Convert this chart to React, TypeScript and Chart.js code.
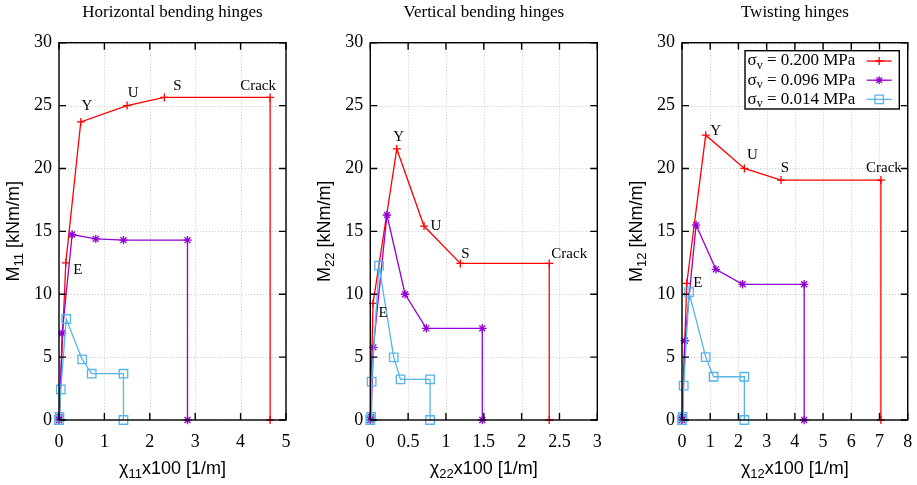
import React, { useEffect, useRef } from "react";
import { Chart, registerables } from "chart.js";

Chart.register(...registerables);

// ---------- DATA ----------
// Horizontal bending hinges (chi11, M11)
const H_RED_X = [0, 0.15, 0.48, 1.5, 2.32, 4.65, 4.65];
const H_RED_Y = [0, 12.5, 23.7, 25.0, 25.65, 25.65, 0];
const H_PURPLE_X = [0, 0.01, 0.07, 0.29, 0.81, 1.42, 2.83, 2.83];
const H_PURPLE_Y = [0, 0.25, 6.9, 14.75, 14.4, 14.3, 14.3, 0];
const H_BLUE_X = [0, 0.01, 0.04, 0.16, 0.51, 0.72, 1.42, 1.42];
const H_BLUE_Y = [0, 0.25, 2.44, 8.03, 4.82, 3.68, 3.68, 0];

// Vertical bending hinges (chi22, M22)
const V_RED_X = [0, 0.036, 0.35, 0.71, 1.19, 2.365, 2.365];
const V_RED_Y = [0, 9.27, 21.55, 15.42, 12.45, 12.45, 0];
const V_PURPLE_X = [0, 0.01, 0.04, 0.22, 0.46, 0.74, 1.48, 1.48];
const V_PURPLE_Y = [0, 0.25, 5.78, 16.3, 10.0, 7.29, 7.29, 0];
const V_BLUE_X = [0, 0.01, 0.018, 0.115, 0.31, 0.4, 0.79, 0.79];
const V_BLUE_Y = [0, 0.25, 3.05, 12.27, 4.98, 3.23, 3.23, 0];

// Twisting hinges (chi12, M12)
const T_RED_X = [0, 0.17, 0.84, 2.21, 3.51, 7.05, 7.05];
const T_RED_Y = [0, 10.87, 22.65, 20.0, 19.08, 19.08, 0];
const T_PURPLE_X = [0, 0.02, 0.1, 0.5, 1.2, 2.15, 4.33, 4.33];
const T_PURPLE_Y = [0, 0.25, 6.3, 15.5, 11.98, 10.79, 10.79, 0];
const T_BLUE_X = [0, 0.02, 0.06, 0.25, 0.84, 1.12, 2.21, 2.21];
const T_BLUE_Y = [0, 0.25, 2.73, 10.17, 5.0, 3.44, 3.44, 0];

// Labels attached to the red (sigma_v = 0.200 MPa) points
const RED_POINT_LABELS = ["", "E", "Y", "U", "S", "Crack", ""];

const TITLES = ["Horizontal bending hinges", "Vertical bending hinges", "Twisting hinges"];
const SUBSCRIPTS = ["11", "22", "12"];
const X_MAX = [5, 3, 8];
const X_STEP = [1, 0.5, 1];
const Y_MAX = 30;
const Y_STEP = 5;
const LEGEND_LABELS = ["0.200", "0.096", "0.014"];

// ---------- STYLE ----------
const RED = "#ff0000";
const PURPLE = "#9400d3";
const BLUE = "#56b4e9";
const COLORS = [RED, PURPLE, BLUE];
const SERIF = "'Liberation Serif', 'Times New Roman', serif";
const SANS = "'Liberation Sans', Arial, sans-serif";

type Seg = { t: string; sub?: boolean };

function drawRich(
  ctx: CanvasRenderingContext2D,
  segs: Seg[],
  x: number,
  y: number,
  size: number,
  family: string,
  align: "left" | "center"
) {
  const subSize = Math.round(size * 0.72);
  const widths = segs.map((s) => {
    ctx.font = `${s.sub ? subSize : size}px ${family}`;
    return ctx.measureText(s.t).width;
  });
  const total = widths.reduce((a, b) => a + b, 0);
  let cx = align === "center" ? x - total / 2 : x;
  ctx.textAlign = "left";
  ctx.textBaseline = "middle";
  segs.forEach((s, i) => {
    ctx.font = `${s.sub ? subSize : size}px ${family}`;
    ctx.fillText(s.t, cx, y + (s.sub ? size * 0.28 : 0));
    cx += widths[i];
  });
}

function drawMarker(ctx: CanvasRenderingContext2D, kind: number, x: number, y: number, color: string) {
  ctx.save();
  ctx.strokeStyle = color;
  ctx.lineWidth = 1.3;
  ctx.beginPath();
  if (kind === 0) {
    const r = 4;
    ctx.moveTo(x - r, y); ctx.lineTo(x + r, y);
    ctx.moveTo(x, y - r); ctx.lineTo(x, y + r);
  } else if (kind === 1) {
    const r = 4;
    const d = r * Math.SQRT1_2;
    ctx.moveTo(x - r, y); ctx.lineTo(x + r, y);
    ctx.moveTo(x, y - r); ctx.lineTo(x, y + r);
    ctx.moveTo(x - d, y - d); ctx.lineTo(x + d, y + d);
    ctx.moveTo(x - d, y + d); ctx.lineTo(x + d, y - d);
  } else {
    const s = 4.2;
    ctx.rect(x - s, y - s, 2 * s, 2 * s);
  }
  ctx.stroke();
  ctx.restore();
}

type PanelCfg = {
  idx: number;
  left: number;
  width: number;
  plotLeft: number;
  plotRight: number;
  red: [number[], number[]];
  purple: [number[], number[]];
  blue: [number[], number[]];
  labelOffsets: [number, number][];
  legend: boolean;
};

const PLOT_TOP = 42.7;
const PLOT_BOTTOM = 420;
const H = 485;

const PANELS: PanelCfg[] = [
  {
    idx: 0, left: 0, width: 305, plotLeft: 59, plotRight: 286,
    red: [H_RED_X, H_RED_Y], purple: [H_PURPLE_X, H_PURPLE_Y], blue: [H_BLUE_X, H_BLUE_Y],
    labelOffsets: [[0, 0], [12, 7], [6, -16], [6, -13], [13, -11], [-12, -11], [0, 0]],
    legend: false,
  },
  {
    idx: 1, left: 305, width: 310, plotLeft: 370.3, plotRight: 597.3,
    red: [V_RED_X, V_RED_Y], purple: [V_PURPLE_X, V_PURPLE_Y], blue: [V_BLUE_X, V_BLUE_Y],
    labelOffsets: [[0, 0], [10, 10], [2, -12], [12, 0], [5, -9], [20, -9], [0, 0]],
    legend: false,
  },
  {
    idx: 2, left: 615, width: 302, plotLeft: 682, plotRight: 907.7,
    red: [T_RED_X, T_RED_Y], purple: [T_PURPLE_X, T_PURPLE_Y], blue: [T_BLUE_X, T_BLUE_Y],
    labelOffsets: [[0, 0], [11, 0], [10, -4], [8, -13], [4, -12], [3, -12], [0, 0]],
    legend: true,
  },
];

function makeDataset(xs: number[], ys: number[], color: string, style: string, radius: number, label: string) {
  return {
    label,
    data: xs.map((x, i) => ({ x, y: ys[i] })),
    borderColor: color,
    backgroundColor: "transparent",
    borderWidth: 1.3,
    pointStyle: style,
    pointRadius: radius,
    pointHoverRadius: radius,
    pointBorderColor: color,
    pointBackgroundColor: "transparent",
    pointBorderWidth: 1.3,
    showLine: true,
    tension: 0,
    clip: false,
  };
}

function makeChart(canvas: HTMLCanvasElement, p: PanelCfg) {
  const i = p.idx;
  const tickFont = { family: SERIF, size: 18 };
  const decor = {
    id: "decor" + i,
    beforeDatasetsDraw(chart: any) {
      const { ctx, chartArea: a, scales } = chart;
      ctx.save();
      ctx.strokeStyle = "#c8c8c8";
      ctx.lineWidth = 1;
      ctx.setLineDash([1, 2]);
      scales.x.ticks.forEach((t: any) => {
        const px = Math.round(scales.x.getPixelForValue(t.value)) + 0.5;
        ctx.beginPath(); ctx.moveTo(px, a.top); ctx.lineTo(px, a.bottom); ctx.stroke();
      });
      scales.y.ticks.forEach((t: any) => {
        const py = Math.round(scales.y.getPixelForValue(t.value)) + 0.5;
        ctx.beginPath(); ctx.moveTo(a.left, py); ctx.lineTo(a.right, py); ctx.stroke();
      });
      ctx.restore();
    },
    afterDatasetsDraw(chart: any) {
      const { ctx, chartArea: a, scales } = chart;
      ctx.save();
      // frame
      ctx.strokeStyle = "#000";
      ctx.lineWidth = 1.4;
      ctx.strokeRect(a.left, a.top, a.right - a.left, a.bottom - a.top);
      // inward ticks on all sides
      const tl = 7;
      ctx.beginPath();
      scales.x.ticks.forEach((t: any) => {
        const px = scales.x.getPixelForValue(t.value);
        ctx.moveTo(px, a.bottom); ctx.lineTo(px, a.bottom - tl);
        ctx.moveTo(px, a.top); ctx.lineTo(px, a.top + tl);
      });
      scales.y.ticks.forEach((t: any) => {
        const py = scales.y.getPixelForValue(t.value);
        ctx.moveTo(a.left, py); ctx.lineTo(a.left + tl, py);
        ctx.moveTo(a.right, py); ctx.lineTo(a.right - tl, py);
      });
      ctx.stroke();

      // point labels
      ctx.fillStyle = "#000";
      ctx.font = `15px ${SERIF}`;
      ctx.textAlign = "center";
      ctx.textBaseline = "middle";
      const [rx, ry] = p.red;
      RED_POINT_LABELS.forEach((lab, k) => {
        if (!lab) return;
        const px = scales.x.getPixelForValue(rx[k]);
        const py = scales.y.getPixelForValue(ry[k]);
        const [ox, oy] = p.labelOffsets[k];
        ctx.fillText(lab, px + ox, py + oy);
      });

      // legend
      if (p.legend) {
        const bx = 130, by = 50.7, bw = 154.3, bh = 58.3;
        ctx.fillStyle = "#fff";
        ctx.fillRect(bx, by, bw, bh);
        ctx.strokeStyle = "#000";
        ctx.lineWidth = 1.4;
        ctx.strokeRect(bx, by, bw, bh);
        LEGEND_LABELS.forEach((val, k) => {
          const cy = 61 + k * 19.2;
          ctx.fillStyle = "#000";
          drawRich(ctx, [{ t: "σ" }, { t: "v", sub: true }, { t: ` = ${val} MPa` }], bx + 2.5, cy, 17, SERIF, "left");
          ctx.strokeStyle = COLORS[k];
          ctx.lineWidth = 1.3;
          ctx.beginPath();
          ctx.moveTo(251.7, cy); ctx.lineTo(276.7, cy);
          ctx.stroke();
          drawMarker(ctx, k, 264.2, cy, COLORS[k]);
        });
      }
      ctx.restore();
    },
    afterDraw(chart: any) {
      const { ctx, chartArea: a } = chart;
      ctx.save();
      ctx.fillStyle = "#000";
      const cx = (a.left + a.right) / 2;
      const cy = (a.top + a.bottom) / 2;
      // title
      ctx.font = `17px ${SERIF}`;
      ctx.textAlign = "center";
      ctx.textBaseline = "middle";
      ctx.fillText(TITLES[i], cx, 13);
      // x title
      drawRich(ctx, [{ t: "χ" }, { t: SUBSCRIPTS[i], sub: true }, { t: "x100 [1/m]" }], cx, 469, 18, SANS, "center");
      // y title
      ctx.translate(a.left - 45, cy);
      ctx.rotate(-Math.PI / 2);
      drawRich(ctx, [{ t: "M" }, { t: SUBSCRIPTS[i], sub: true }, { t: " [kNm/m]" }], 0, 0, 18, SANS, "center");
      ctx.restore();
    },
  };

  return new Chart(canvas, {
    type: "scatter",
    data: {
      datasets: [
        makeDataset(p.blue[0], p.blue[1], BLUE, "rect", 6, "σv = 0.014 MPa"),
        makeDataset(p.purple[0], p.purple[1], PURPLE, "star", 4.2, "σv = 0.096 MPa"),
        makeDataset(p.red[0], p.red[1], RED, "cross", 4, "σv = 0.200 MPa"),
      ] as any,
    },
    options: {
      animation: false,
      responsive: false,
      events: [],
      layout: { padding: { left: 0, right: p.left + p.width - p.plotRight, top: PLOT_TOP, bottom: 0 } },
      plugins: { legend: { display: false }, tooltip: { enabled: false }, title: { display: false } },
      scales: {
        x: {
          type: "linear",
          min: 0,
          max: X_MAX[i],
          ticks: {
            stepSize: X_STEP[i],
            font: tickFont,
            color: "#000",
            padding: 11,
            maxRotation: 0,
            autoSkip: false,
            callback: (v: any) => String(Math.round(Number(v) * 100) / 100),
          },
          grid: { display: false, drawTicks: false },
          border: { display: false },
          afterFit: (s: any) => {
            s.height = H - PLOT_BOTTOM;
            s.paddingLeft = 0; s.paddingRight = 0; s.paddingTop = 0; s.paddingBottom = 0;
          },
        },
        y: {
          type: "linear",
          min: 0,
          max: Y_MAX,
          ticks: { stepSize: Y_STEP, font: tickFont, color: "#000", padding: 7, autoSkip: false },
          grid: { display: false, drawTicks: false },
          border: { display: false },
          afterFit: (s: any) => {
            s.width = p.plotLeft - p.left;
            s.paddingLeft = 0; s.paddingRight = 0; s.paddingTop = 0; s.paddingBottom = 0;
          },
        },
      },
    } as any,
    plugins: [decor],
  });
}

function Panel({ cfg }: { cfg: PanelCfg }) {
  const ref = useRef<HTMLCanvasElement | null>(null);
  useEffect(() => {
    if (!ref.current) return;
    const chart = makeChart(ref.current, cfg);
    return () => chart.destroy();
  }, [cfg]);
  return (
    <canvas
      ref={ref}
      width={cfg.width}
      height={H}
      style={{ position: "absolute", left: cfg.left, top: 0, width: cfg.width, height: H }}
    />
  );
}

export default function App() {
  return (
    <div style={{ position: "absolute", left: 0, top: 0, width: 917, height: H, background: "#fff" }}>
      {PANELS.map((p) => (
        <Panel key={p.idx} cfg={p} />
      ))}
    </div>
  );
}
